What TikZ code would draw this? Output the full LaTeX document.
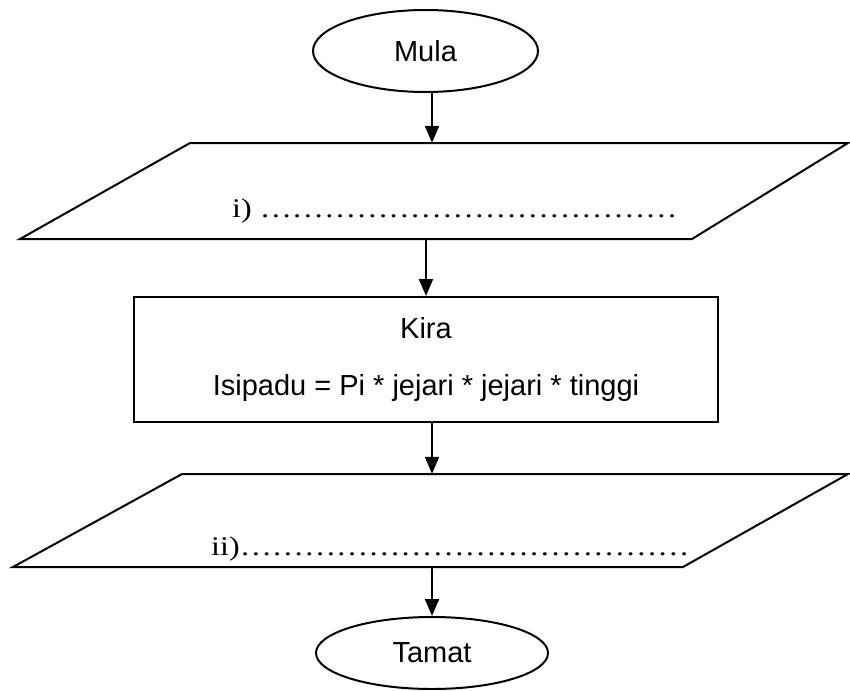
\documentclass[tikz,border=0pt]{standalone}
\usepackage{graphicx}
\usepackage{fontspec}
\setmainfont{Liberation Sans}
\newfontfamily\dotfont{Liberation Serif}
\usetikzlibrary{arrows.meta,shapes.geometric}
\begin{document}
\begin{tikzpicture}[x=1pt,y=-1pt,
  shapeline/.style={draw=black,line width=2pt},
  term/.style={ellipse,shapeline,inner sep=0pt,font=\fontsize{29}{34}\selectfont},
  proc/.style={rectangle,shapeline,inner sep=0pt,align=center,font=\fontsize{29}{57}\selectfont},
  iobox/.style={inner sep=0pt,minimum width=10pt},
  arr/.style={line width=2pt,-{Triangle[width=14pt,length=17pt]}},
  dotline/.style={inner sep=0pt,anchor=base west,font=\dotfont\fontsize{27}{30}\selectfont}
]
\useasboundingbox (0,0) rectangle (850,690);
\fill[white] (0,0) rectangle (850,690);

% start
\node[term,minimum width=225pt,minimum height=82pt] (mula) at (425.5,51) {Mula};

% input
\node[iobox,minimum height=96pt] (in) at (432,191) {};
\draw[shapeline] (190,143) -- (848,143) -- (692,239) -- (20,239) -- cycle;
\node[dotline] (intext) at (232,217) {\scalebox{1.19}[1]{i) …………………………………}};

% process
\node[proc,minimum width=584pt,minimum height=125pt] (calc) at (426,359.5)
  {Kira\\Isipadu = Pi * jejari * jejari * tinggi};

% output
\node[iobox,minimum height=93pt] (out) at (432,520.5) {};
\draw[shapeline] (182,474) -- (848,474) -- (683,567) -- (13,567) -- cycle;
\node[dotline] (outtext) at (211,555) {\scalebox{1.19}[1]{ii)……………………………………}};

% end
\node[term,minimum width=232pt,minimum height=72pt] (tamat) at (432,653) {Tamat};

% connectors
\draw[arr] (in.north |- mula.south) -- (in.north);
\draw[arr] (calc.north |- in.south) -- (calc.north);
\draw[arr] (out.north |- calc.south) -- (out.north);
\draw[arr] (tamat.north |- out.south) -- (tamat.north);
\end{tikzpicture}
\end{document}
